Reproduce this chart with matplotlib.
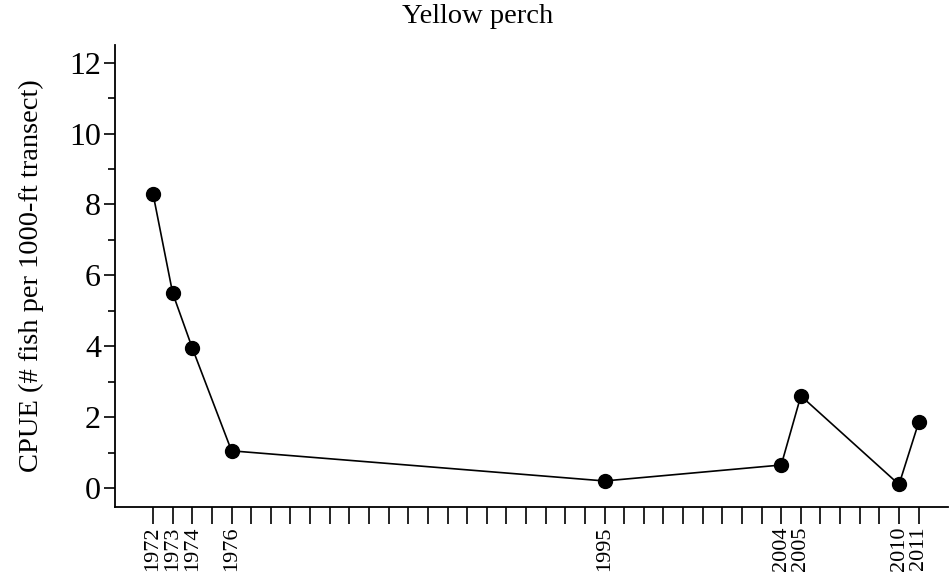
import matplotlib.pyplot as plt
from matplotlib.ticker import MultipleLocator

# Yellow perch catch per unit effort by survey year
years = [1972, 1973, 1974, 1976, 1995, 2004, 2005, 2010, 2011]
cpue = [8.3, 5.5, 3.95, 1.05, 0.2, 0.65, 2.6, 0.1, 1.85]

plt.rcParams['font.family'] = ['Liberation Serif', 'DejaVu Serif']

fig = plt.figure(figsize=(9.5, 5.77), dpi=100)
ax = fig.add_axes([0.121, 0.121, 0.877, 0.801])

ax.plot(years, cpue, color='black', linewidth=1.2, marker='o',
        markersize=10, markerfacecolor='black', markeredgecolor='black')

ax.set_xlim(1970.06, 2012.5)
ax.set_ylim(-0.54, 12.5)

# every year gets a tick, only surveyed years get a label
ax.set_xticks(list(range(1972, 2012)))
ax.set_xticklabels([str(y) if y in years else '' for y in range(1972, 2012)],
                   rotation=90, fontsize=16)
ax.tick_params(axis='x', direction='out', length=12, width=1.2, pad=2)

ax.yaxis.set_major_locator(MultipleLocator(2))
ax.yaxis.set_minor_locator(MultipleLocator(1))
ax.tick_params(axis='y', which='major', direction='out', length=8, width=1.2,
               labelsize=23, pad=2)
ax.tick_params(axis='y', which='minor', direction='out', length=5, width=1.2)

for side in ['top', 'right']:
    ax.spines[side].set_visible(False)
for side in ['left', 'bottom']:
    ax.spines[side].set_linewidth(1.3)

ax.set_ylabel('CPUE (# fish per 1000-ft transect)', fontsize=20.5, labelpad=18)
fig.text(0.503, 0.972, 'Yellow perch', ha='center', va='center', fontsize=20.5)

fig.savefig('out.png', dpi=100)
